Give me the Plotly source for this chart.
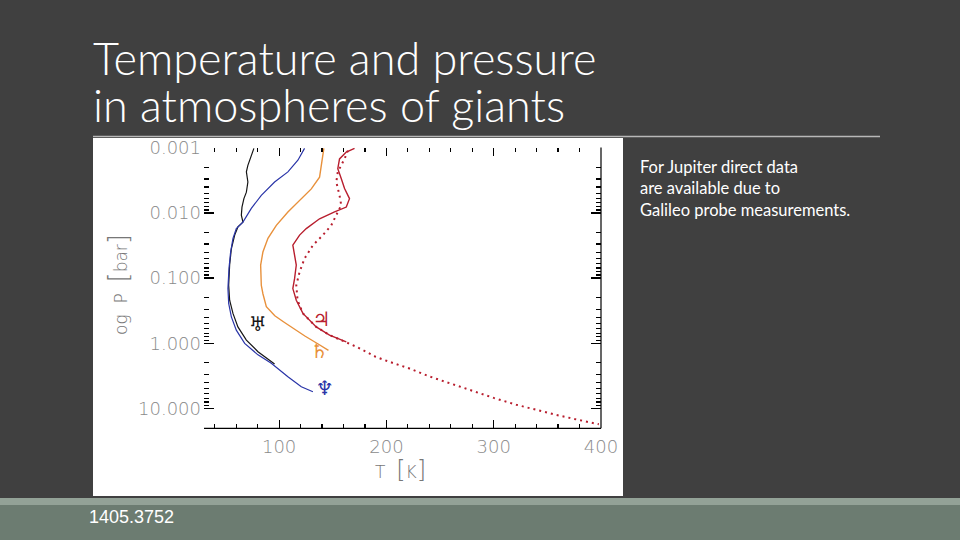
import plotly.graph_objects as go

# ---------------- data ----------------
# Uranus (black)
uranus_T = [76.5, 70.9, 69.5, 70.9, 69.5, 67.2, 65.4, 64.8, 66.3, 61.6, 58.6, 55.5, 53.9, 53.0, 53.9, 57.0, 61.6, 69.5, 80.3, 92.7, 95.8]
uranus_P = [0.00102, 0.00186, 0.00234, 0.00335, 0.00479, 0.00603, 0.00813, 0.01084, 0.0138, 0.0164, 0.0219, 0.0355, 0.0631, 0.129, 0.219, 0.349, 0.562, 0.895, 1.35, 1.91, 2.09]
# Neptune (blue)
neptune_T = [123.7, 117.5, 108.2, 95.8, 83.4, 74.1, 66.3, 60.1, 57.0, 54.8, 53.3, 52.3, 53.0, 55.5, 60.1, 67.9, 80.3, 92.7, 108.2, 120.7, 131.5]
neptune_P = [0.00102, 0.00155, 0.00234, 0.00335, 0.00537, 0.00851, 0.0138, 0.0174, 0.0245, 0.0398, 0.0708, 0.145, 0.245, 0.394, 0.631, 1.007, 1.51, 2.04, 3.27, 4.68, 5.56]
# Saturn (orange)
saturn_T = [141.7, 139.9, 137.7, 130.0, 120.7, 108.2, 97.4, 89.6, 84.9, 82.8, 83.4, 84.9, 88.1, 96.0, 104.0, 112.0, 124.0, 136.0, 146.0]
saturn_P = [0.00102, 0.00166, 0.00282, 0.00427, 0.00603, 0.00966, 0.0155, 0.0245, 0.0398, 0.0631, 0.129, 0.174, 0.275, 0.380, 0.468, 0.575, 0.776, 1.02, 1.29]
# Jupiter, Galileo probe (red solid)
jupiter_T = [170.3, 162.6, 156.3, 154.7, 157.9, 161.0, 165.6, 162.6, 151.7, 137.7, 125.3, 119.1, 112.8, 114.4, 116.0, 114.4, 112.8, 116.0, 122.2, 134.6, 147.0, 162.6]
jupiter_P = [0.00102, 0.00116, 0.00148, 0.00209, 0.00295, 0.00422, 0.00603, 0.00813, 0.00966, 0.0123, 0.0174, 0.0219, 0.0313, 0.0447, 0.0631, 0.102, 0.145, 0.219, 0.349, 0.562, 0.750, 0.955]
# Jupiter, model (red dotted)
jupiter_model_T = [164.1, 161.0, 154.7, 153.3, 156.3, 157.9, 154.7, 148.6, 140.8, 131.5, 123.7, 119.1, 116.0, 117.2, 122.2, 134.6, 147.0, 162.6, 172.0, 181.0, 190.0, 202.0, 221.5, 240.0, 259.0, 277.0, 300.0, 321.0, 339.5, 358.0, 377.0, 398.0]
jupiter_model_P = [0.00110, 0.00148, 0.00234, 0.00335, 0.00537, 0.00759, 0.00966, 0.0155, 0.0219, 0.0313, 0.0501, 0.0804, 0.129, 0.219, 0.349, 0.562, 0.750, 0.955, 1.135, 1.35, 1.62, 1.91, 2.45, 3.24, 4.12, 5.25, 6.92, 8.81, 10.6, 12.6, 14.8, 17.6]

x_tickvals = [100, 200, 300, 400]
y_tickvals = [0.001, 0.01, 0.1, 1, 10]
y_ticktext = ["0.001", "0.010", "0.100", "1.000", "10.000"]

planet_symbols = ["♅", "♄", "♃", "♆"]
label_T = [80, 137.5, 139.5, 142.5]
label_P = [0.55, 1.42, 0.45, 5.3]

# ---------------- figure ----------------
BG = "#404040"
C_BLACK = "#151515"
C_BLUE = "#2a35a8"
C_ORANGE = "#e8913c"
C_RED = "#b81e2e"
TICKGRAY = "#8a8a8a"
TICKFONT = "DejaVu Sans ExtraLight, DejaVu Sans"

fig = go.Figure()
fig.add_trace(go.Scatter(x=uranus_T, y=uranus_P, mode="lines", line=dict(color=C_BLACK, width=1.2), showlegend=False))
fig.add_trace(go.Scatter(x=neptune_T, y=neptune_P, mode="lines", line=dict(color=C_BLUE, width=1.2), showlegend=False))
fig.add_trace(go.Scatter(x=saturn_T, y=saturn_P, mode="lines", line=dict(color=C_ORANGE, width=1.4), showlegend=False))
fig.add_trace(go.Scatter(x=jupiter_model_T, y=jupiter_model_P, mode="lines", line=dict(color=C_RED, width=2, dash="2px,4px"), showlegend=False))
fig.add_trace(go.Scatter(x=jupiter_T, y=jupiter_P, mode="lines", line=dict(color=C_RED, width=1.4), showlegend=False))

label_colors = [C_BLACK, C_ORANGE, C_RED, C_BLUE]
fig.add_trace(go.Scatter(x=label_T, y=label_P, mode="text", text=planet_symbols,
                         textfont=dict(family="DejaVu Sans", size=20, color=label_colors),
                         showlegend=False, cliponaxis=False, hoverinfo="skip"))

W, H = 960, 540
def px(x):
    return x / W
def py(y):
    return 1 - y / H

shapes = [
    dict(type="rect", xref="paper", yref="paper", x0=px(93), x1=px(623), y0=py(496), y1=py(138),
         fillcolor="white", line=dict(width=0), layer="below"),
    dict(type="line", xref="paper", yref="paper", x0=px(93), x1=px(880), y0=py(136.5), y1=py(136.5),
         line=dict(color="#b8b8b8", width=1.5), layer="below"),
    dict(type="rect", xref="paper", yref="paper", x0=0, x1=1, y0=py(505), y1=py(498),
         fillcolor="#93a297", line=dict(width=0), layer="below"),
    dict(type="rect", xref="paper", yref="paper", x0=0, x1=1, y0=0, y1=py(505),
         fillcolor="#6c7c71", line=dict(width=0), layer="below"),
    dict(type="line", xref="x domain", yref="y domain", x0=0, x1=1, y0=0, y1=0, line=dict(color="black", width=1.2)),
    dict(type="line", xref="x domain", yref="y domain", x0=1, x1=1, y0=0, y1=1, line=dict(color="black", width=1.2)),
]

annotations = [
    dict(text="Temperature and pressure", x=px(91), y=py(58), xref="paper", yref="paper", xanchor="left", yanchor="middle",
         showarrow=False, font=dict(family="Lato", size=45, color="white", weight=300)),
    dict(text="in atmospheres of giants", x=px(91), y=py(105), xref="paper", yref="paper", xanchor="left", yanchor="middle",
         showarrow=False, font=dict(family="Lato", size=45, color="white", weight=300)),
    dict(text="For Jupiter direct data<br>are available due to<br>Galileo probe measurements.", x=px(638), y=py(155),
         xref="paper", yref="paper", xanchor="left", yanchor="top", align="left", showarrow=False,
         font=dict(family="Lato", size=16.5, color="white")),
    dict(text="1405.3752", x=px(87), y=py(517), xref="paper", yref="paper", xanchor="left", yanchor="middle",
         showarrow=False, font=dict(family="Liberation Sans Narrow, Liberation Sans", size=18, color="white")),
    dict(text="og  P  <span style='font-size:26px'>[</span>bar<span style='font-size:26px'>]</span>", x=px(118), y=py(285),
         xref="paper", yref="paper", xanchor="center", yanchor="middle", textangle=-90, showarrow=False,
         font=dict(family=TICKFONT, size=17, color="#777777", weight=200)),
    dict(text="T  <span style='font-size:24px'>[</span>K<span style='font-size:24px'>]</span>", x=px(400), y=py(470),
         xref="paper", yref="paper", xanchor="center", yanchor="middle", showarrow=False,
         font=dict(family=TICKFONT, size=17, color="#777777", weight=200)),
]

fig.update_layout(
    width=W, height=H, autosize=False,
    margin=dict(l=0, r=0, t=0, b=0, pad=0),
    paper_bgcolor=BG, plot_bgcolor="white",
    shapes=shapes, annotations=annotations,
    hovermode=False,
    xaxis=dict(domain=[px(204), px(601)], range=[30, 400], showline=False, showgrid=False, zeroline=False,
               automargin=False,
               tickmode="array", tickvals=x_tickvals, ticks="inside", ticklen=8, tickwidth=1.2, tickcolor="black",
               mirror="ticks", ticklabelstandoff=6,
               minor=dict(dtick=20, tick0=0, ticks="inside", ticklen=4, tickwidth=1.2, tickcolor="black", showgrid=False),
               tickfont=dict(family=TICKFONT, size=18, color=TICKGRAY, weight=200)),
    yaxis=dict(domain=[py(428.3), py(147.5)], type="log", range=[1.307, -3.005], showline=False, showgrid=False,
               zeroline=False, automargin=False, tickmode="array", tickvals=y_tickvals, ticktext=y_ticktext,
               ticks="inside", ticklen=10, tickwidth=1.2, tickcolor="black", mirror="ticks", ticklabelstandoff=2,
               minor=dict(dtick="D1", ticks="inside", ticklen=5, tickwidth=1.2, tickcolor="black", showgrid=False),
               tickfont=dict(family=TICKFONT, size=18, color=TICKGRAY, weight=200)),
)

post = (
    "document.documentElement.style.cssText='margin:0;padding:0;overflow:hidden;background:#404040;';"
    "document.body.style.cssText='margin:0;padding:0;overflow:hidden;background:#404040;';"
)
fig.write_html("out.html", config={"displayModeBar": False, "staticPlot": True}, post_script=post)
